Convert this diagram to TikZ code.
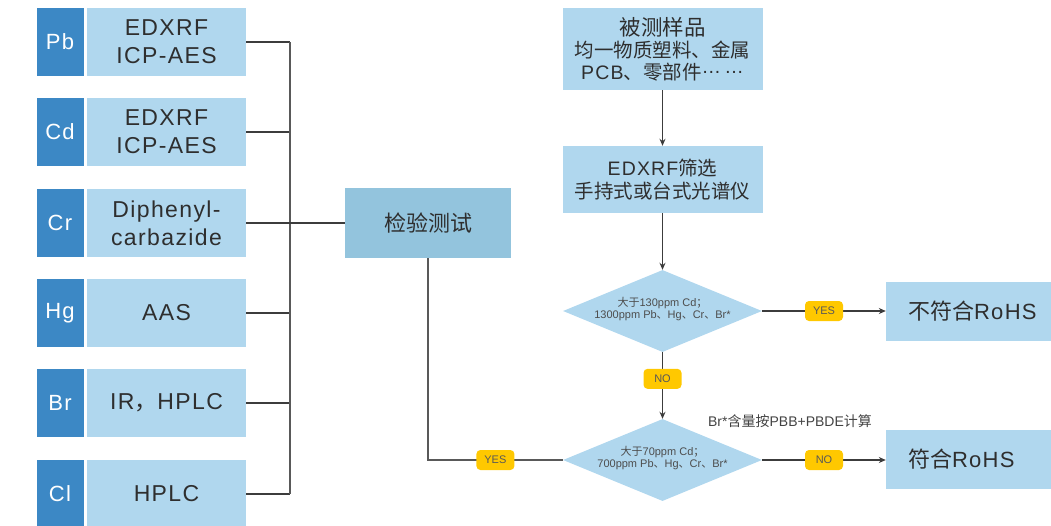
\documentclass[tikz,border=0pt]{standalone}
\usepackage{fontspec}
\setmainfont{Liberation Sans}
\newfontfamily\cjk{Noto Sans CJK SC}
\newfontfamily\lat[LetterSpace=6]{Liberation Sans}
\newcommand\cj[1]{{\cjk #1}}
\usetikzlibrary{shapes.geometric,arrows.meta}
\definecolor{darkblue}{HTML}{3C88C5}
\definecolor{lightblue}{HTML}{B0D7EE}
\definecolor{midblue}{HTML}{93C4DD}
\definecolor{gold}{HTML}{FFC800}
\definecolor{txt}{HTML}{2E2E2E}
\definecolor{linec}{HTML}{3C3C3C}
\begin{document}
\begin{tikzpicture}[x=1pt,y=-1pt,
  elem/.style={fill=darkblue, text=white, minimum width=47pt, minimum height=68pt, inner sep=0pt, font=\lat\fontsize{22}{26}\selectfont},
  meth/.style={fill=lightblue, text=txt, minimum width=159pt, minimum height=68pt, inner sep=0pt, align=center, font=\lat\fontsize{23}{28}\selectfont},
  rbox/.style={fill=lightblue, text=txt, inner sep=0pt, align=center},
  resbox/.style={fill=lightblue, text=txt, minimum height=59pt, text width=130pt, inner xsep=22pt, inner ysep=0pt, align=left, font=\lat\fontsize{22}{26}\selectfont},
  dia/.style={diamond, fill=lightblue, minimum width=199pt, minimum height=82pt, inner sep=0pt},
  dtext/.style={text=txt!85, align=center, inner sep=0pt, font=\fontsize{11}{12.5}\selectfont},
  lab/.style={fill=gold, rounded corners=4pt, minimum width=38pt, minimum height=20pt, inner sep=0pt, text=txt!80, font=\fontsize{11}{13}\selectfont},
  conn/.style={draw=linec, line width=1.2pt},
  arr/.style={conn, -{Stealth[length=7pt,width=6pt]}}
]
\useasboundingbox (0,0) rectangle (1051,525);

% left column
\node[elem] (pbE) at (60,42) {Pb};
\node[meth] (pbM) at (166.5,42) {EDXRF\\ICP-AES};
\node[elem] (cdE) at (60,132) {Cd};
\node[meth] (cdM) at (166.5,132) {EDXRF\\ICP-AES};
\node[elem] (crE) at (60,223) {Cr};
\node[meth] (crM) at (166.5,223) {Diphenyl-\\carbazide};
\node[elem] (hgE) at (60,313) {Hg};
\node[meth] (hgM) at (166.5,313) {AAS};
\node[elem] (brE) at (60,403) {Br};
\node[meth] (brM) at (166.5,403) {IR\cj{，}HPLC};
\node[elem] (clE) at (60,494) {Cl};
\node[meth] (clM) at (166.5,494) {HPLC};

\node[rbox, fill=midblue, minimum width=166pt, minimum height=70pt, font=\cjk\fontsize{22}{26}\selectfont] (test) at (428,223) {检验测试};

\coordinate (bus) at (290,0);
\foreach \n in {pbM,cdM,hgM,brM,clM}{
  \draw[conn] (\n.east) -- (\n.east -| bus);
}
\draw[conn, line width=1.6pt, draw=linec!85] (pbM.east -| bus) -- (clM.east -| bus);
\draw[conn] (crM.east) -- (test.west);

% right column
\node[rbox, minimum width=200pt, minimum height=82pt, font=\cjk\fontsize{19.5}{22}\selectfont] (sample) at (662.5,49)
  {{\fontsize{21.5}{22}\selectfont 被测样品}\\均一物质塑料、金属\\{\lat PCB}、零部件\raisebox{0.3em}{\lat …}\,\raisebox{0.3em}{\lat …}};
\node[rbox, minimum width=200pt, minimum height=67pt, font=\cjk\fontsize{19.5}{23}\selectfont] (edx) at (662.5,179.5)
  {{\lat EDXRF}筛选\\手持式或台式光谱仪};

\node[dia] (d1) at (662.5,311) {};
\node[dtext] (d1t) at (662.5,309) {\cj{大于}130ppm Cd\cj{；}\\1300ppm Pb\cj{、}Hg\cj{、}Cr\cj{、}Br*};
\node[dia] (d2) at (662.5,460) {};
\node[dtext] (d2t) at (662.5,458) {\cj{大于}70ppm Cd\cj{；}\\700ppm Pb\cj{、}Hg\cj{、}Cr\cj{、}Br*};

\node[resbox] (noncomp) at (973,311) {\cj{不符合}RoHS};
\node[resbox] (comp) at (973,459) {\cj{符合}RoHS};

\node[text=txt!90, inner sep=0pt, font=\fontsize{14}{16}\selectfont] (note) at (790,421) {Br*\cj{含量按}PBB+PBDE\cj{计算}};

\draw[arr] (sample.south) -- (edx.north);
\draw[arr] (edx.south) -- (d1.north);
\draw[arr] (d1.east) -- node[lab] (yes1) {YES} (d1.east -| noncomp.west);
\draw[arr] (d1.south) -- node[lab, pos=0.4] (no1) {NO} (d2.north);
\draw[arr] (d2.east) -- node[lab] (no2) {NO} (d2.east -| comp.west);
\draw[conn, line width=1.5pt, draw=linec!85] (test.south) |- node[lab, pos=0.75] (yes2) {YES} (d2.west);
\end{tikzpicture}
\end{document}
